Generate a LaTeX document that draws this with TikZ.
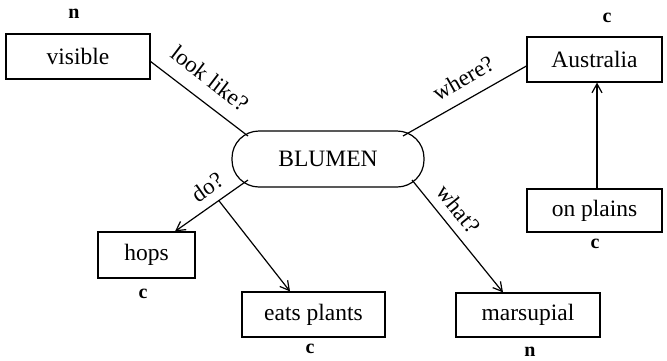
\documentclass[tikz,border=0pt]{standalone}
\usepackage{fontspec}
\setmainfont{Liberation Serif}
\usetikzlibrary{arrows.meta,calc}
\begin{document}
\begin{tikzpicture}[x=1pt, y=-1pt, line width=1.2pt,
    >={Straight Barb[length=9pt,width=10pt]},
    box/.style={draw, rectangle, inner sep=0pt, font=\fontsize{23.5}{25}\selectfont},
    tag/.style={font=\bfseries\fontsize{20}{22}\selectfont},
    lbl/.style={sloped, inner sep=2pt, font=\fontsize{23}{25}\selectfont}]
    \useasboundingbox (0,0) rectangle (667,360);
    % Khung chính
    \node[box, rounded corners=27pt, minimum width=192pt, minimum height=56pt] (blumen) at (328,159) {BLUMEN};
    \node[box, minimum width=144pt, minimum height=45pt] (visible) at (78,56.5) {visible};
    \node[box, minimum width=135pt, minimum height=45pt] (australia) at (594.5,59.5) {Australia};
    \node[box, minimum width=135pt, minimum height=43pt] (onplains) at (594.5,210.5) {on plains};
    \node[box, minimum width=97pt, minimum height=46pt] (hops) at (146.5,255) {hops};
    \node[box, minimum width=143pt, minimum height=45pt] (eats) at (313.5,314.5) {eats plants};
    \node[box, minimum width=144pt, minimum height=44pt] (marsupial) at (528,315) {marsupial};
    % Nhãn n / c
    \node[tag] (tvisible) at (74,14) {n};
    \node[tag] (taustralia) at (607,18) {c};
    \node[tag] (tonplains) at (595,244) {c};
    \node[tag] (thops) at (143,294) {c};
    \node[tag] (teats) at (310,349) {c};
    \node[tag] (tmarsupial) at (530,352) {n};
    % Các cạnh
    \draw ($(visible.east)+(0,5)$) -- node[lbl, pos=0.47, above=12pt] (llook) {look like?} ($(blumen.center)+(-80,-23)$);
    \draw ($(blumen.center)+(75,-23)$) -- node[lbl, pos=0.57, above=10pt] (lwhere) {where?} ($(australia.west)+(0,6.5)$);
    \draw[->] ($(blumen.center)+(-80,21)$) -- coordinate[pos=0.4] (dofork) node[lbl, pos=0.42, above=7pt] (ldo) {do?} ($(hops.north)+(28.5,0)$);
    \draw[->] (dofork) -- ($(eats.north)+(-23.5,0)$);
    \draw[->] ($(blumen.center)+(84,21)$) -- node[lbl, pos=0.36, above=7pt] (lwhat) {what?} ($(marsupial.north)+(-25,0)$);
    \draw[->] ($(onplains.north)+(2.5,0)$) -- ($(australia.south)+(2.5,0)$);
\end{tikzpicture}
\end{document}
